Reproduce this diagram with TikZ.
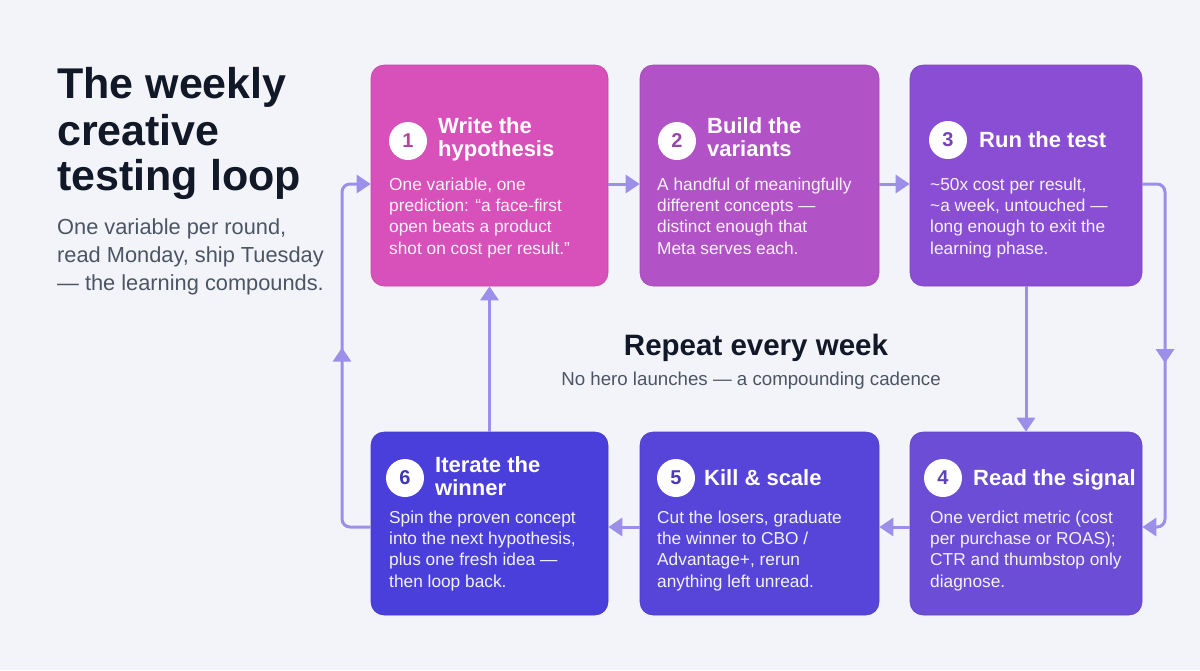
\documentclass[tikz,border=0pt]{standalone}
\usepackage{fontspec}
\setmainfont{Liberation Sans}
\usetikzlibrary{arrows.meta,decorations.markings}
\definecolor{bg}{HTML}{F3F4FA}
\definecolor{cA}{HTML}{D850BA}
\definecolor{cB}{HTML}{B252C7}
\definecolor{cC}{HTML}{8A4ED4}
\definecolor{cD}{HTML}{6B4DD6}
\definecolor{cE}{HTML}{5745D9}
\definecolor{cF}{HTML}{4A3FDB}
\definecolor{arrc}{HTML}{9B8FEA}
\definecolor{ink}{HTML}{111827}
\definecolor{grayt}{HTML}{4B5563}
\tikzset{
  card/.style={rounded corners=13pt, inner sep=0pt, draw=#1!90!black, line width=0.6pt, fill=#1},
  numdot/.style={circle, fill=white, minimum size=38pt, inner sep=0pt, text=#1!85!black,
    font=\fontsize{20}{20}\selectfont\bfseries},
  ttl/.style={anchor=base west, inner sep=0pt, align=left, text=white,
    font=\fontsize{22}{23}\selectfont\bfseries},
  bodytxt/.style={anchor=base west, inner sep=0pt, align=left, text=white, text opacity=0.93,
    font=\fontsize{17.3}{21.4}\selectfont},
  arr/.style={draw=arrc, line width=3pt, -{Triangle[length=14pt,width=18pt]}},
  midarr/.style={postaction={decorate}, decoration={markings,
    mark=at position #1 with {\arrow{Triangle[length=14pt,width=18pt]}}}}
}
\begin{document}
\begin{tikzpicture}[x=1pt,y=-1pt]
\fill[bg] (0,0) rectangle (1200,670);
\useasboundingbox (0,0) rectangle (1200,670);

% heading (multi-line nodes: base anchor = last line's baseline)
\node[anchor=base west, inner sep=0pt, text=ink, font=\fontsize{43}{46}\selectfont\bfseries] (h1) at (57,98) {The weekly};
\node[anchor=base west, inner sep=0pt, text=ink, font=\fontsize{43}{46}\selectfont\bfseries] (h2) at (57,145) {creative};
\node[anchor=base west, inner sep=0pt, text=ink, font=\fontsize{43}{46}\selectfont\bfseries] (h3) at (57,190) {testing loop};
\node[anchor=base west, inner sep=0pt, align=left, text=grayt, font=\fontsize{21.8}{28}\selectfont] (sub) at (57,290)
  {One variable per round,\\read Monday, ship Tuesday\\— the learning compounds.};

% centre
\node[anchor=base, inner sep=0pt, text=ink, font=\fontsize{29.5}{30}\selectfont\bfseries] (rep) at (756,355) {Repeat every week};
\node[anchor=base, inner sep=0pt, text=grayt, font=\fontsize{18.7}{20}\selectfont] (rep2) at (751,385) {No hero launches — a compounding cadence};

% cards
\node[card=cA, minimum width=237pt, minimum height=221pt] (b1) at (489.5,175.5) {};
\node[card=cB, minimum width=239pt, minimum height=221pt] (b2) at (759.5,175.5) {};
\node[card=cC, minimum width=232pt, minimum height=221pt] (b3) at (1026,175.5) {};
\node[card=cD, minimum width=232pt, minimum height=183pt] (b4) at (1026,523.5) {};
\node[card=cE, minimum width=239pt, minimum height=183pt] (b5) at (759.5,523.5) {};
\node[card=cF, minimum width=237pt, minimum height=183pt] (b6) at (489.5,523.5) {};

% card 1
\node[numdot=cA] (n1) at (408,141) {1};
\node[ttl] (t1) at (438,156) {Write the\\hypothesis};
\node[bodytxt] (d1) at (389,254.2) {One variable, one\\prediction: “a face-first\\open beats a product\\shot on cost per result.”};
% card 2
\node[numdot=cB] (n2) at (677,141) {2};
\node[ttl] (t2) at (707,156) {Build the\\variants};
\node[bodytxt] (d2) at (657,254.2) {A handful of meaningfully\\different concepts —\\distinct enough that\\Meta serves each.};
% card 3
\node[numdot=cC] (n3) at (948,140) {3};
\node[ttl] (t3) at (979,147) {Run the test};
\node[bodytxt] (d3) at (930,254.2) {\textasciitilde 50x cost per result,\\\textasciitilde a week, untouched —\\long enough to exit the\\learning phase.};
% card 4
\node[numdot=cD] (n4) at (943,478) {4};
\node[ttl] (t4) at (973,485) {Read the signal};
\node[bodytxt] (d4) at (930,587.2) {One verdict metric (cost\\per purchase or ROAS);\\CTR and thumbstop only\\diagnose.};
% card 5
\node[numdot=cE] (n5) at (676,478) {5};
\node[ttl] (t5) at (704,485) {Kill \& scale};
\node[bodytxt] (d5) at (657,587.2) {Cut the losers, graduate\\the winner to CBO /\\Advantage+, rerun\\anything left unread.};
% card 6
\node[numdot=cF] (n6) at (405,478) {6};
\node[ttl] (t6) at (435,495) {Iterate the\\winner};
\node[bodytxt] (d6) at (389,587.2) {Spin the proven concept\\into the next hypothesis,\\plus one fresh idea —\\then loop back.};

% connectors
\coordinate (ya) at (0,184);
\coordinate (yb) at (0,527);
\coordinate (xr) at (1165,0);
\coordinate (xl) at (342,0);
\draw[arr] (b1.east |- ya) -- (b2.west |- ya);
\draw[arr] (b2.east |- ya) -- (b3.west |- ya);
\draw[arr] (b3.south) -- (b4.north);
\draw[arr] (b4.west |- yb) -- (b5.east |- yb);
\draw[arr] (b5.west |- yb) -- (b6.east |- yb);
\draw[arr] (b6.north) -- (b1.south);
\draw[arr, rounded corners=8pt, midarr=0.52] (b3.east |- ya) -- (xr |- ya) -- (xr |- yb) -- (b4.east |- yb);
\draw[arr, rounded corners=8pt, midarr=0.52] (b6.west |- yb) -- (xl |- yb) -- (xl |- ya) -- (b1.west |- ya);
\end{tikzpicture}
\end{document}
